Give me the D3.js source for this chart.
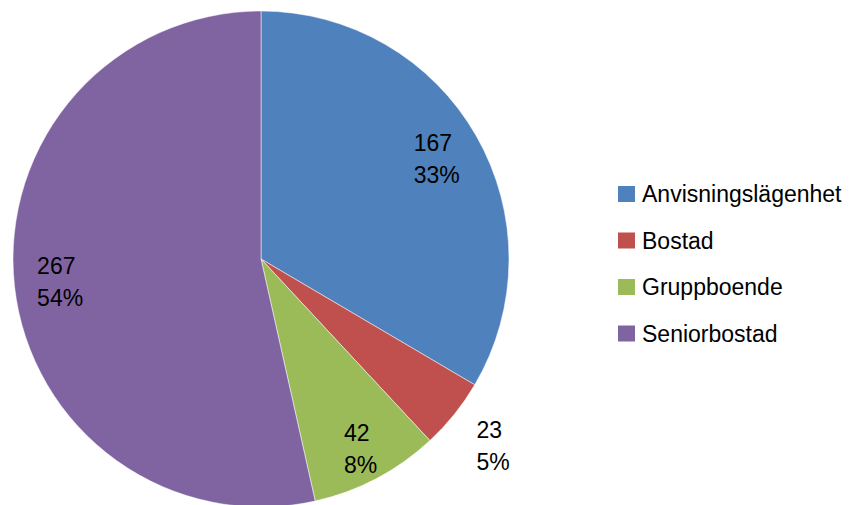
<!DOCTYPE html>
<html><head><meta charset="utf-8">
<script src="https://cdn.jsdelivr.net/npm/d3@7"></script>
<style>body{margin:0;background:#fff}</style>
</head><body>
<svg id="c" width="865" height="505"></svg>
<script>
const categories = ["Anvisningslägenhet", "Bostad", "Gruppboende", "Seniorbostad"];
const values = [167, 23, 42, 267];
const percentLabels = ["33%", "5%", "8%", "54%"];
const colors = ["#4F81BD", "#C0504D", "#9BBB59", "#8064A2"];
const labelRadiusFactor = [0.816, 1.2, 0.862, 0.815];

const svg = d3.select("#c");
const cx = 261, cy = 259, r = 248;
const font = "Liberation Sans, Arial, sans-serif";
const fs = 23;
const data = categories.map((c, i) => ({c, v: values[i], p: percentLabels[i], col: colors[i], f: labelRadiusFactor[i]}));
const pie = d3.pie().value(d => d.v).sort(null);
const arcs = pie(data);
const arc = d3.arc().innerRadius(0).outerRadius(r);
const g = svg.append("g").attr("transform", `translate(${cx},${cy})`);
g.selectAll("path").data(arcs).join("path")
  .attr("d", arc).attr("fill", d => d.data.col)
  .attr("stroke", "#fff").attr("stroke-width", 0.5);

arcs.forEach(a => {
  const m = (a.startAngle + a.endAngle) / 2;
  const rr = r * a.data.f;
  const x = Math.sin(m) * rr, y = -Math.cos(m) * rr;
  const t = g.append("text").attr("font-family", font).attr("font-size", fs)
    .attr("fill", "#000").attr("text-anchor", "start");
  const lines = [String(a.data.v), a.data.p];
  const spans = lines.map((l, i) => t.append("tspan").attr("y", y - 7.5 + i * 32).text(l));
  const w = d3.max(spans, s => s.node().getComputedTextLength());
  spans.forEach(s => s.attr("x", x - w / 2));
});

const lg = svg.append("g");
data.forEach((d, i) => {
  const y = 202 + i * 46.5;
  lg.append("rect").attr("x", 618).attr("y", y - 16).attr("width", 17).attr("height", 16).attr("fill", d.col);
  lg.append("text").attr("x", 642).attr("y", y).attr("font-family", font).attr("font-size", fs)
    .attr("fill", "#000").text(d.c);
});
</script>
</body></html>
